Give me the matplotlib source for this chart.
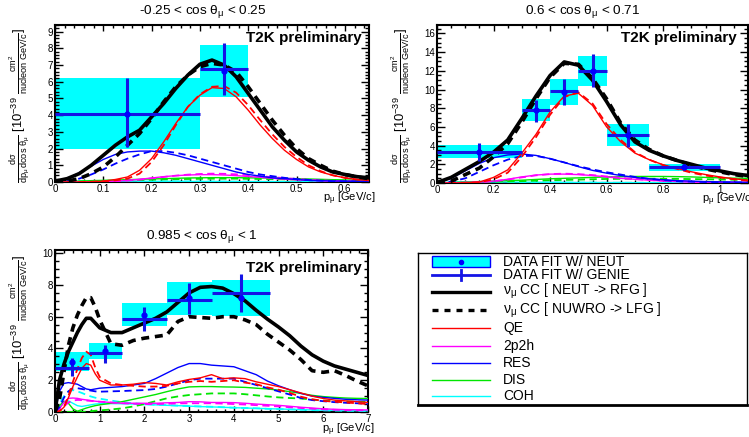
import numpy as np
import matplotlib
matplotlib.use('Agg')
import matplotlib.pyplot as plt
from matplotlib.ticker import MultipleLocator, AutoMinorLocator, FuncFormatter

plt.rcParams['font.family'] = ['Liberation Sans', 'DejaVu Sans']
plt.rcParams['mathtext.fontset'] = 'custom'
plt.rcParams['mathtext.rm'] = 'Liberation Sans'
plt.rcParams['mathtext.it'] = 'Liberation Sans:italic'
plt.rcParams['mathtext.bf'] = 'Liberation Sans:bold'
plt.rcParams['mathtext.default'] = 'regular'

# ---------------- panel 1 : -0.25 < cos < 0.25 ----------------
x1 = [0, 0.025, 0.05, 0.075, 0.1, 0.125, 0.15, 0.175, 0.2, 0.225, 0.25, 0.275, 0.3, 0.325,
      0.35, 0.375, 0.4, 0.425, 0.45, 0.475, 0.5, 0.525, 0.55, 0.575, 0.6, 0.625, 0.65]
tot_neut1 = [0.05, 0.2, 0.5, 1.0, 1.6, 2.2, 2.7, 3.1, 3.9, 4.7, 5.6, 6.4, 7.05, 7.3,
             7.0, 6.3, 5.3, 4.3, 3.3, 2.5, 1.8, 1.3, 0.9, 0.6, 0.45, 0.32, 0.25]
tot_nuwro1 = [0, 0.05, 0.2, 0.5, 0.9, 1.5, 2.2, 2.9, 3.8, 4.8, 5.7, 6.4, 6.9, 7.1,
              7.0, 6.6, 5.7, 4.7, 3.7, 2.8, 2.0, 1.4, 1.0, 0.65, 0.45, 0.3, 0.2]
qe1 = [0, 0, 0, 0.01, 0.05, 0.15, 0.3, 0.7, 1.4, 2.4, 3.5, 4.5, 5.2, 5.65,
       5.6, 5.1, 4.3, 3.4, 2.6, 1.9, 1.35, 0.9, 0.6, 0.4, 0.25, 0.15, 0.1]
qe1_d = [0, 0, 0, 0.01, 0.04, 0.1, 0.2, 0.5, 1.2, 2.2, 3.4, 4.5, 5.25, 5.7,
         5.75, 5.35, 4.6, 3.7, 2.85, 2.1, 1.5, 1.0, 0.65, 0.4, 0.25, 0.15, 0.1]
res1 = [0, 0.2, 0.55, 0.95, 1.35, 1.65, 1.8, 1.85, 1.85, 1.75, 1.6, 1.4, 1.2, 1.0,
        0.8, 0.6, 0.45, 0.35, 0.25, 0.2, 0.15, 0.1, 0.08, 0.06, 0.05, 0.04, 0.03]
res1_d = [0, 0.05, 0.2, 0.45, 0.75, 1.1, 1.4, 1.65, 1.85, 1.85, 1.75, 1.6, 1.4, 1.2,
          1.0, 0.8, 0.6, 0.45, 0.35, 0.25, 0.18, 0.12, 0.08, 0.05, 0.04, 0.03, 0.02]
mec1 = [0, 0, 0, 0.01, 0.02, 0.05, 0.1, 0.16, 0.24, 0.32, 0.38, 0.42, 0.44, 0.44,
        0.42, 0.38, 0.33, 0.28, 0.22, 0.17, 0.13, 0.1, 0.07, 0.05, 0.04, 0.03, 0.02]
mec1_d = [0, 0, 0, 0.01, 0.02, 0.04, 0.08, 0.14, 0.22, 0.3, 0.38, 0.44, 0.48, 0.5,
          0.49, 0.46, 0.41, 0.35, 0.29, 0.23, 0.18, 0.13, 0.1, 0.07, 0.05, 0.04, 0.03]
dis1 = [0, 0.02, 0.05, 0.08, 0.1, 0.12, 0.14, 0.16, 0.18, 0.2, 0.22, 0.24, 0.25, 0.26,
        0.26, 0.26, 0.25, 0.24, 0.23, 0.21, 0.2, 0.18, 0.16, 0.14, 0.12, 0.1, 0.09]
dis1_d = [0, 0.01, 0.02, 0.04, 0.06, 0.08, 0.1, 0.12, 0.14, 0.16, 0.17, 0.18, 0.19, 0.2,
          0.2, 0.2, 0.19, 0.18, 0.17, 0.16, 0.15, 0.13, 0.12, 0.1, 0.09, 0.08, 0.07]
coh1 = [0, 0.02, 0.04, 0.05, 0.05, 0.05, 0.05, 0.05, 0.04, 0.04, 0.04, 0.03, 0.03, 0.03,
        0.03, 0.02, 0.02, 0.02, 0.02, 0.01, 0.01, 0.01, 0.01, 0.01, 0.01, 0.01, 0.01]
coh1_d = [0, 0.01, 0.03, 0.04, 0.04, 0.04, 0.04, 0.04, 0.03, 0.03, 0.03, 0.03, 0.02, 0.02,
          0.02, 0.02, 0.02, 0.01, 0.01, 0.01, 0.01, 0.01, 0.01, 0.01, 0.01, 0.01, 0.01]
edges1 = [0, 0.3, 0.4]
neut1 = [4.1, 6.65]
neut1_err = [2.1, 1.55]
genie1 = [4.1, 6.75]
genie1_lo = [2.0, 1.55]
genie1_hi = [2.1, 1.55]

# ---------------- panel 2 : 0.6 < cos < 0.71 ----------------
x2 = [0, 0.05, 0.1, 0.15, 0.2, 0.25, 0.3, 0.35, 0.4, 0.45, 0.5, 0.55, 0.6, 0.65,
      0.7, 0.75, 0.8, 0.85, 0.9, 0.95, 1.0, 1.05, 1.1]
tot_neut2 = [0.05, 0.6, 1.45, 2.3, 3.3, 4.6, 6.9, 9.3, 11.5, 12.95, 12.6, 11.0, 8.7, 6.2,
             4.4, 3.5, 2.9, 2.4, 2.0, 1.6, 1.3, 1.0, 0.8]
tot_nuwro2 = [0, 0.2, 0.9, 1.6, 2.8, 4.2, 6.5, 9.0, 11.3, 12.8, 12.7, 11.2, 9.0, 6.4,
              4.6, 3.6, 2.9, 2.4, 1.9, 1.5, 1.2, 0.9, 0.7]
qe2 = [0, 0, 0.02, 0.1, 0.6, 1.4, 3.2, 5.2, 7.6, 9.3, 9.6, 8.3, 6.0, 4.4,
       3.2, 2.5, 1.95, 1.55, 1.2, 0.9, 0.65, 0.45, 0.3]
qe2_d = [0, 0, 0.01, 0.07, 0.4, 1.1, 2.8, 4.9, 7.3, 9.2, 9.7, 8.5, 6.3, 4.6,
         3.3, 2.5, 1.9, 1.5, 1.1, 0.8, 0.6, 0.4, 0.25]
res2 = [0, 0.5, 1.3, 2.1, 2.7, 3.0, 3.1, 2.95, 2.6, 2.2, 1.75, 1.35, 1.05, 0.8,
        0.6, 0.45, 0.35, 0.25, 0.2, 0.15, 0.12, 0.1, 0.08]
res2_d = [0, 0.15, 0.5, 1.2, 1.9, 2.5, 2.9, 2.9, 2.6, 2.2, 1.8, 1.45, 1.15, 0.9,
          0.65, 0.45, 0.3, 0.2, 0.15, 0.1, 0.08, 0.06, 0.05]
mec2 = [0, 0.02, 0.05, 0.1, 0.2, 0.4, 0.65, 0.85, 0.95, 0.95, 0.9, 0.8, 0.65, 0.5,
        0.4, 0.3, 0.22, 0.16, 0.12, 0.09, 0.07, 0.05, 0.04]
mec2_d = [0, 0.01, 0.04, 0.08, 0.18, 0.36, 0.6, 0.82, 0.95, 1.0, 0.95, 0.85, 0.7, 0.55,
          0.42, 0.32, 0.24, 0.18, 0.13, 0.1, 0.07, 0.05, 0.04]
dis2 = [0, 0.05, 0.1, 0.15, 0.2, 0.25, 0.3, 0.38, 0.45, 0.5, 0.55, 0.6, 0.65, 0.68,
        0.7, 0.7, 0.7, 0.68, 0.65, 0.6, 0.55, 0.52, 0.5]
dis2_d = [0, 0.03, 0.06, 0.1, 0.13, 0.17, 0.2, 0.25, 0.3, 0.33, 0.36, 0.4, 0.43, 0.45,
          0.46, 0.46, 0.45, 0.44, 0.42, 0.4, 0.37, 0.35, 0.33]
coh2 = [0, 0.1, 0.12, 0.12, 0.11, 0.1, 0.09, 0.08, 0.07, 0.06, 0.05, 0.05, 0.04, 0.04,
        0.03, 0.03, 0.03, 0.02, 0.02, 0.02, 0.02, 0.02, 0.01]
coh2_d = [0, 0.08, 0.1, 0.1, 0.09, 0.08, 0.07, 0.06, 0.06, 0.05, 0.04, 0.04, 0.03, 0.03,
          0.03, 0.02, 0.02, 0.02, 0.02, 0.01, 0.01, 0.01, 0.01]
edges2 = [0, 0.3, 0.4, 0.5, 0.6, 0.75, 1.0]
neut2 = [3.34, 7.8, 9.7, 12.0, 5.18, 1.68]
neut2_err = [0.71, 1.16, 1.4, 1.6, 1.18, 0.4]
genie2 = [3.34, 7.8, 9.85, 11.96, 5.1, 1.7]
genie2_lo = [0.95, 1.3, 1.55, 1.65, 1.25, 0.35]
genie2_hi = [0.92, 1.1, 1.25, 1.85, 1.2, 0.35]

# ---------------- panel 3 : 0.985 < cos < 1 ----------------
x3 = [0, 0.1, 0.2, 0.3, 0.4, 0.5, 0.6, 0.7, 0.8, 0.9, 1.0, 1.25, 1.5, 1.75, 2.0, 2.25,
      2.5, 2.75, 3.0, 3.25, 3.5, 3.75, 4.0, 4.25, 4.5, 4.75, 5.0, 5.25, 5.5, 5.75,
      6.0, 6.25, 6.5, 6.75, 7.0]
tot_neut3 = [0, 2.0, 3.0, 3.8, 4.4, 5.0, 5.5, 5.9, 5.9, 5.6, 5.3, 5.0, 5.0, 5.3, 5.6, 5.9,
             6.3, 6.9, 7.5, 7.85, 7.9, 7.8, 7.45, 7.0, 6.4, 5.85, 5.35, 4.8, 4.15, 3.6,
             3.2, 2.9, 2.7, 2.5, 2.3]
tot_nuwro3 = [0, 0.8, 2.5, 4.2, 5.3, 6.1, 6.7, 7.2, 7.2, 6.6, 5.8, 4.3, 4.2, 4.5, 4.65, 4.75,
              4.85, 5.7, 6.0, 5.95, 5.9, 6.0, 6.0, 5.8, 5.5, 4.9, 4.4, 3.9, 3.3, 2.6,
              2.5, 2.6, 2.3, 1.95, 1.65]
qe3 = [0, 0.05, 0.3, 0.9, 1.6, 2.2, 2.75, 3.05, 2.95, 2.4, 2.0, 1.7, 1.7, 1.75, 1.85, 1.8,
       1.7, 1.9, 2.05, 2.15, 2.35, 2.1, 2.15, 2.1, 1.9, 1.75, 1.6, 1.4, 1.2, 1.0,
       0.85, 0.75, 0.7, 0.65, 0.6]
qe3_d = [0, 0.05, 0.3, 1.0, 1.9, 2.7, 3.4, 3.8, 3.6, 2.8, 2.2, 1.8, 1.7, 1.65, 1.6, 1.6,
         1.65, 1.8, 1.9, 1.95, 1.9, 1.95, 2.0, 1.85, 1.75, 1.55, 1.4, 1.2, 0.96, 0.8,
         0.7, 0.65, 0.6, 0.55, 0.5]
res3 = [0, 1.3, 1.8, 1.85, 1.8, 1.75, 1.6, 1.45, 1.4, 1.45, 1.5, 1.55, 1.6, 1.7, 1.8, 2.1,
        2.45, 2.8, 3.05, 3.05, 2.95, 2.9, 2.85, 2.6, 2.35, 1.95, 1.65, 1.4, 1.17, 1.0,
        0.92, 0.86, 0.8, 0.77, 0.75]
res3_d = [0, 0.3, 0.9, 1.3, 1.5, 1.5, 1.45, 1.4, 1.35, 1.3, 1.28, 1.3, 1.32, 1.35, 1.38, 1.45,
          1.6, 1.8, 2.0, 2.1, 2.1, 2.1, 2.1, 1.9, 1.7, 1.5, 1.3, 1.1, 0.88, 0.75,
          0.68, 0.62, 0.58, 0.55, 0.52]
mec3 = [0, 0.2, 0.6, 0.86, 0.88, 0.86, 0.8, 0.76, 0.72, 0.68, 0.65, 0.6, 0.55, 0.55, 0.55, 0.55,
        0.58, 0.6, 0.65, 0.64, 0.6, 0.6, 0.59, 0.55, 0.5, 0.46, 0.42, 0.36, 0.3, 0.25,
        0.2, 0.17, 0.15, 0.14, 0.13]
mec3_d = [0, 0.1, 0.35, 0.6, 0.72, 0.76, 0.75, 0.72, 0.7, 0.67, 0.65, 0.6, 0.55, 0.52, 0.5, 0.5,
          0.52, 0.54, 0.55, 0.55, 0.55, 0.53, 0.5, 0.47, 0.43, 0.39, 0.35, 0.3, 0.25, 0.21,
          0.17, 0.14, 0.12, 0.11, 0.1]
dis3 = [0, 0.4, 0.68, 0.55, 0.2, 0.05, 0.15, 0.25, 0.33, 0.4, 0.45, 0.55, 0.65, 0.8, 0.95, 1.1,
        1.28, 1.45, 1.58, 1.6, 1.6, 1.58, 1.57, 1.55, 1.5, 1.45, 1.38, 1.28, 1.17, 1.05,
        0.97, 0.92, 0.88, 0.86, 0.85]
dis3_d = [0, 0, 0, 0, 0, 0, 0, 0.02, 0.05, 0.08, 0.1, 0.16, 0.23, 0.35, 0.5, 0.68,
          0.86, 0.98, 1.07, 1.12, 1.17, 1.17, 1.17, 1.12, 1.05, 0.98, 0.92, 0.88, 0.85, 0.78,
          0.72, 0.68, 0.66, 0.65, 0.64]
coh3 = [0, 0.3, 0.6, 0.7, 0.55, 0.4, 0.35, 0.4, 0.45, 0.5, 0.52, 0.53, 0.52, 0.5, 0.47, 0.45,
        0.42, 0.4, 0.37, 0.34, 0.32, 0.3, 0.27, 0.25, 0.23, 0.21, 0.19, 0.17, 0.15, 0.13,
        0.11, 0.1, 0.09, 0.08, 0.07]
coh3_d = [0, 0.5, 1.0, 1.3, 1.38, 1.3, 1.2, 1.08, 0.98, 0.9, 0.84, 0.72, 0.62, 0.55, 0.5, 0.46,
          0.43, 0.4, 0.37, 0.35, 0.33, 0.3, 0.27, 0.25, 0.23, 0.2, 0.18, 0.16, 0.14, 0.12,
          0.1, 0.09, 0.08, 0.07, 0.06]
edges3 = [0, 0.75, 1.5, 2.5, 3.5, 4.8]
neut3 = [3.17, 3.84, 6.12, 7.15, 7.18]
neut3_err = [0.6, 0.5, 0.73, 1.05, 1.12]
genie3 = [2.77, 3.7, 5.85, 7.07, 7.5]
genie3_lo = [0.53, 0.6, 0.78, 0.87, 1.2]
genie3_hi = [0.63, 0.5, 0.75, 1.03, 1.2]

titles = [r'-0.25 < cos $\theta_{\mu}$ < 0.25', r'0.6 < cos $\theta_{\mu}$ < 0.71',
          r'0.985 < cos $\theta_{\mu}$ < 1']
legend_labels = ['DATA FIT W/ NEUT', 'DATA FIT W/ GENIE', r'$\nu_{\mu}$ CC [ NEUT -> RFG ]',
                 r'$\nu_{\mu}$ CC [ NUWRO -> LFG ]', 'QE', '2p2h', 'RES', 'DIS', 'COH']

BLUE = '#0000ff'
XBLUE = '#1414e6'
CYAN = '#00ffff'
RED = '#ff0000'
MAG = '#ff00ff'
GREEN = '#00e600'

ylab = (r'$\frac{d\sigma}{dp_{\mu}\,dcos\ \theta_{\mu}}\ [10^{-39}\ '
        r'\frac{cm^{2}}{nucleon\ GeV/c}]$')


def draw_panel(ax, x, curves, edges, neut, neut_err, genie, glo, ghi):
    edges = np.array(edges)
    cen = 0.5 * (edges[:-1] + edges[1:])
    half = 0.5 * np.diff(edges)
    neut = np.array(neut)
    neut_err = np.array(neut_err)
    ax.bar(edges[:-1], 2 * neut_err, bottom=neut - neut_err, width=np.diff(edges),
           align='edge', color=CYAN, lw=0, zorder=1)
    (tn, tw, qe, qed, res, resd, mec, mecd, dis, disd, coh, cohd) = curves
    thin = dict(lw=1.0, zorder=3)
    dsh = dict(lw=1.3, ls=(0, (4, 2.5)), zorder=3)
    ax.plot(x, coh, color=CYAN, **thin)
    ax.plot(x, cohd, color=CYAN, **dsh)
    ax.plot(x, dis, color=GREEN, **thin)
    ax.plot(x, disd, color=GREEN, **dsh)
    ax.plot(x, mec, color=MAG, **thin)
    ax.plot(x, mecd, color=MAG, **dsh)
    ax.plot(x, res, color=BLUE, **thin)
    ax.plot(x, resd, color=BLUE, **dsh)
    ax.plot(x, qe, color=RED, **thin)
    ax.plot(x, qed, color=RED, **dsh)
    ax.plot(x, tw, color='black', lw=2.6, ls=(0, (2.2, 1.6)), zorder=4)
    ax.plot(x, tn, color='black', lw=2.6, zorder=4)
    ax.errorbar(cen, genie, xerr=half, yerr=[glo, ghi], fmt='none', ecolor=XBLUE,
                elinewidth=2.2, capsize=0, zorder=5)
    ax.plot(cen, neut, 'o', color=BLUE, ms=3.5, zorder=6)


def style(ax, xlim, ylim, xmaj, xmin_n, ymaj, ymin_n, title):
    ax.set_xlim(xlim)
    ax.set_ylim(ylim)
    ax.xaxis.set_major_locator(MultipleLocator(xmaj))
    ax.xaxis.set_minor_locator(AutoMinorLocator(xmin_n))
    ax.yaxis.set_major_locator(MultipleLocator(ymaj))
    ax.yaxis.set_minor_locator(AutoMinorLocator(ymin_n))
    fmt = FuncFormatter(lambda v, p: '%g' % round(v, 3))
    ax.xaxis.set_major_formatter(fmt)
    ax.yaxis.set_major_formatter(fmt)
    ax.tick_params(which='both', direction='in', top=True, right=True, labelsize=7,
                   width=1, pad=1.5)
    ax.tick_params(axis='y', which='major', length=5.5)
    ax.tick_params(axis='y', which='minor', length=3)
    ax.tick_params(axis='x', which='major', length=4.5)
    ax.tick_params(axis='x', which='minor', length=2.5)
    for s in ['top', 'bottom', 'left', 'right']:
        ax.spines[s].set_linewidth(1.5)
    ax.text(0.47, 1.085, title, transform=ax.transAxes, ha='center', va='center',
            fontsize=9.7)
    ax.text(-0.112, 0.49, ylab, transform=ax.transAxes, rotation=90, ha='center',
            va='center', fontsize=9.4)
    ax.text(1.02, -0.108, r'p$_{\mu}$ [GeV/c]', transform=ax.transAxes, ha='right',
            va='center', fontsize=8)


fig = plt.figure(figsize=(7.49, 4.37), dpi=100)

ax1 = fig.add_axes([55 / 749, 1 - 182 / 437, 314 / 749, 157 / 437])
draw_panel(ax1, x1, (tot_neut1, tot_nuwro1, qe1, qe1_d, res1, res1_d, mec1, mec1_d,
                     dis1, dis1_d, coh1, coh1_d), edges1, neut1, neut1_err, genie1,
           genie1_lo, genie1_hi)
style(ax1, (0, 0.65), (0, 9.4), 0.1, 5, 1, 5, titles[0])
ax1.text(0.978, 0.917, 'T2K preliminary', transform=ax1.transAxes, ha='right',
         va='center', fontsize=11, fontweight='bold')

ax2 = fig.add_axes([437 / 749, 1 - 183 / 437, 311 / 749, 158 / 437])
draw_panel(ax2, x2, (tot_neut2, tot_nuwro2, qe2, qe2_d, res2, res2_d, mec2, mec2_d,
                     dis2, dis2_d, coh2, coh2_d), edges2, neut2, neut2_err, genie2,
           genie2_lo, genie2_hi)
style(ax2, (0, 1.1), (0, 16.9), 0.2, 4, 2, 4, titles[1])
ax2.text(0.965, 0.918, 'T2K preliminary', transform=ax2.transAxes, ha='right',
         va='center', fontsize=11, fontweight='bold')

ax3 = fig.add_axes([55 / 749, 1 - 412 / 437, 313 / 749, 162 / 437])
draw_panel(ax3, x3, (tot_neut3, tot_nuwro3, qe3, qe3_d, res3, res3_d, mec3, mec3_d,
                     dis3, dis3_d, coh3, coh3_d), edges3, neut3, neut3_err, genie3,
           genie3_lo, genie3_hi)
style(ax3, (0, 7), (0, 10.2), 1, 5, 2, 4, titles[2])
ax3.text(0.981, 0.889, 'T2K preliminary', transform=ax3.transAxes, ha='right',
         va='center', fontsize=11, fontweight='bold')

# legend box, drawn by hand like the ROOT TLegend
lg = fig.add_axes([418 / 749, 1 - 405 / 437, 329 / 749, 152 / 437])
lg.set_xlim(0, 1)
lg.set_ylim(0, 1)
lg.set_xticks([])
lg.set_yticks([])
for s in lg.spines.values():
    s.set_linewidth(1.0)
lg.spines['bottom'].set_linewidth(2.0)
rows_px = [261.7, 275, 291.7, 310, 328.3, 346, 363.3, 380, 396]
rows = [(405 - r) / 152 for r in rows_px]
hx0, hx1, tx = 0.0426, 0.219, 0.258
lg.add_patch(plt.Rectangle((hx0, rows[0] - 0.036), hx1 - hx0, 0.072, facecolor=CYAN,
                           edgecolor=BLUE, lw=1.0))
lg.plot([(hx0 + hx1) / 2], [rows[0]], 'o', color=BLUE, ms=3)
lg.plot([hx0, hx1], [rows[1]] * 2, color=XBLUE, lw=2.0)
lg.plot([(hx0 + hx1) / 2] * 2, [rows[1] - 0.035, rows[1] + 0.035], color=XBLUE, lw=2.0)
lg.plot([hx0, hx1], [rows[2]] * 2, color='black', lw=2.4)
lg.plot([hx0, hx1], [rows[3]] * 2, color='black', lw=2.4, ls=(0, (1.8, 1.8)))
for r, c in zip(rows[4:], [RED, MAG, BLUE, GREEN, CYAN]):
    lg.plot([hx0, hx1], [r, r], color=c, lw=1.0)
for r, t in zip(rows, legend_labels):
    lg.text(tx, r, t, ha='left', va='center', fontsize=10)

fig.savefig('out.png', dpi=100)
